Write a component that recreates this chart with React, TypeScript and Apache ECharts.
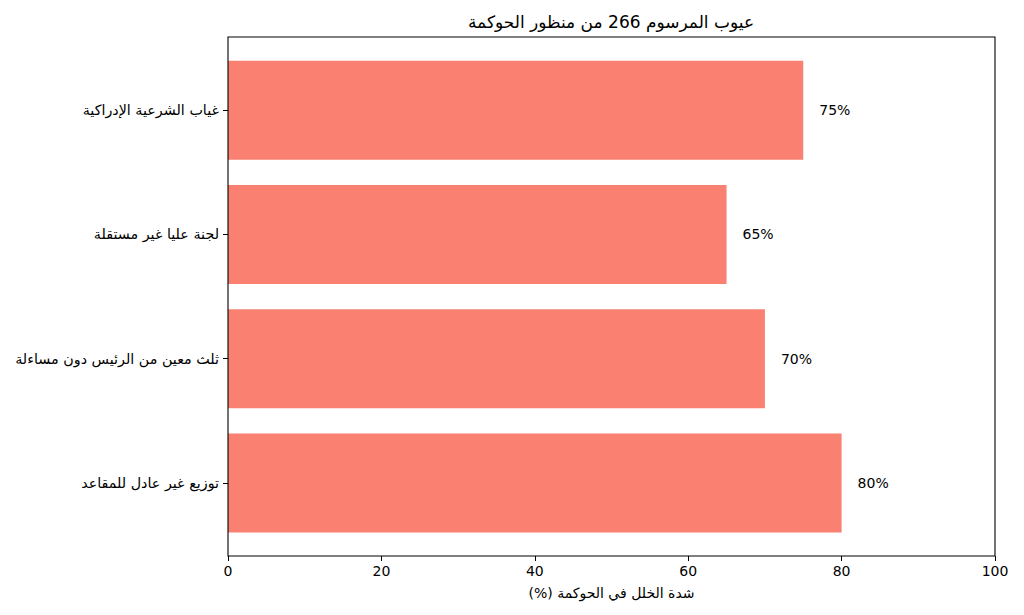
import React, { useEffect, useRef } from "react";
import * as echarts from "echarts";

const categories = [
  "توزيع غير عادل للمقاعد",
  "ثلث معين من الرئيس دون مساءلة",
  "لجنة عليا غير مستقلة",
  "غياب الشرعية الإدراكية",
];
const values = [80, 70, 65, 75];
const titleText = "عيوب المرسوم 266 من منظور الحوكمة";
const xAxisTitle = "\u202Bشدة الخلل في الحوكمة (%)\u202C";

const FONT = "'DejaVu Sans', sans-serif";

export default function App() {
  const ref = useRef<HTMLDivElement>(null);
  useEffect(() => {
    if (!ref.current) return;
    const chart = echarts.init(ref.current, undefined, { renderer: "svg" });
    chart.setOption({
      animation: false,
      backgroundColor: "#ffffff",
      textStyle: { fontFamily: FONT },
      grid: { left: 228, right: 29, top: 48, bottom: 70, containLabel: false },
      xAxis: {
        type: "value",
        min: 0,
        max: 100,
        interval: 20,
        offset: 11,
        splitLine: { show: false },
        axisLine: { show: false },
        axisTick: { show: true, length: 5, lineStyle: { color: "#000", width: 1 } },
        axisLabel: { color: "#000", fontSize: 14, fontFamily: FONT, margin: 8 },
        name: xAxisTitle,
        nameLocation: "middle",
        nameGap: 30,
        nameTextStyle: { color: "#000", fontSize: 14, fontFamily: FONT },
      },
      yAxis: {
        type: "category",
        data: categories,
        axisLine: { show: false },
        axisTick: { show: true, alignWithLabel: true, length: 5, lineStyle: { color: "#000", width: 1 } },
        axisLabel: { color: "#000", fontSize: 14.3, fontFamily: FONT, margin: 9 },
        splitLine: { show: false },
      },
      series: [
        {
          type: "bar",
          data: values,
          barWidth: 99,
          itemStyle: { color: "#FA8072" },
          label: {
            show: true,
            position: "right",
            distance: 16,
            formatter: "{c}%",
            color: "#000",
            fontSize: 14,
            fontFamily: FONT,
          },
        },
      ],
      graphic: [
        {
          type: "rect",
          shape: { x: 228, y: 37, width: 767, height: 519 },
          style: { fill: "none", stroke: "#000", lineWidth: 1.1 },
          z: 100,
          silent: true,
        },
        {
          type: "text",
          x: 611,
          y: 22,
          style: {
            text: titleText,
            fill: "#000",
            fontSize: 17,
            fontFamily: FONT,
            textAlign: "center",
            textVerticalAlign: "middle",
          },
        },
      ],
    });
    return () => chart.dispose();
  }, []);
  return <div ref={ref} style={{ width: 1024, height: 615, position: "absolute", left: 0, top: 0 }} />;
}
